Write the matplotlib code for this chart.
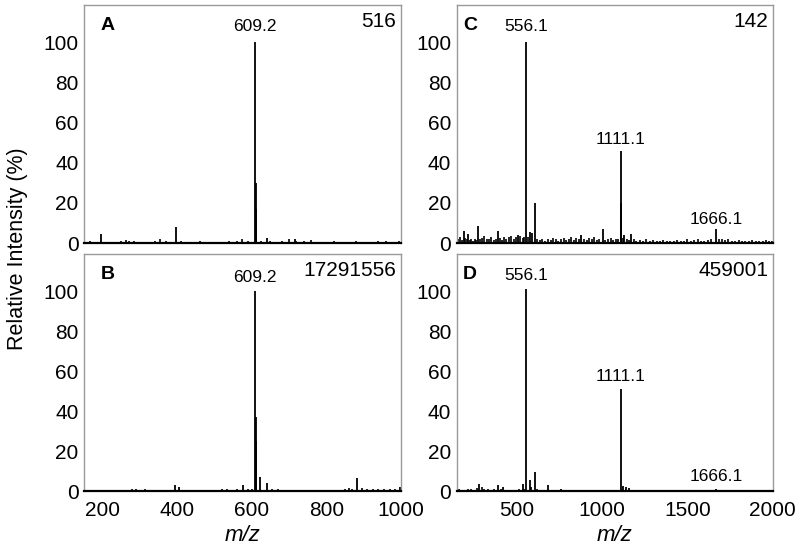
import matplotlib
matplotlib.use('Agg')
import matplotlib.pyplot as plt

plt.rcParams['font.family'] = ['Liberation Sans', 'DejaVu Sans']

# --- panel A: peaks and baseline (m/z, relative intensity %)
a_mz = [195, 397, 609.2, 610.2, 611.2, 612.2, 640, 716]
a_int = [4.5, 8, 100, 30, 17, 4, 2.5, 2]
a_noise_mz = [165, 180, 210, 230, 250, 262, 270, 285, 300, 320, 340, 355, 370, 410, 425, 440,
              460, 480, 500, 520, 540, 560, 575, 590, 625, 650, 665, 680, 700, 720, 740, 760,
              780, 800, 820, 840, 860, 880, 900, 920, 940, 960, 980, 995]
a_noise = [0.8, 0.6, 0.5, 0.7, 1.2, 1.5, 1.0, 0.8, 0.6, 0.7, 1.0, 1.8, 0.8, 0.9, 0.7, 0.6,
           0.8, 0.5, 0.6, 0.7, 0.9, 0.8, 1.8, 0.9, 1.2, 0.8, 0.7, 0.9, 1.8, 1.0, 0.8, 1.4,
           0.7, 0.6, 0.9, 0.6, 0.5, 0.8, 0.7, 0.6, 1.0, 0.8, 0.7, 0.9]

# --- panel B
b_mz = [393, 406, 576, 609.2, 610.2, 611.2, 622, 640, 882, 998]
b_int = [3, 2, 3, 100, 37, 25, 7, 4, 6.5, 2]
b_noise_mz = [165, 190, 215, 240, 265, 280, 290, 305, 313, 330, 350, 370, 420, 440, 460, 480,
              500, 520, 535, 550, 560, 590, 600, 655, 670, 690, 710, 730, 750, 770, 790, 810,
              830, 850, 862, 870, 895, 910, 925, 940, 955, 970, 985]
b_noise = [0.3, 0.3, 0.4, 0.5, 0.6, 1.0, 0.8, 0.6, 1.0, 0.5, 0.6, 0.5, 0.4, 0.3, 0.3, 0.3,
           0.5, 0.8, 0.9, 0.7, 1.0, 1.2, 0.8, 1.2, 0.9, 0.6, 0.5, 0.4, 0.4, 0.4, 0.4, 0.5,
           0.6, 0.8, 1.5, 1.2, 1.4, 1.0, 1.2, 0.8, 1.0, 0.8, 1.0]

# --- panel C
c_mz = [191, 216, 275, 390, 507, 556.1, 577, 593, 605, 880, 1005, 1111.1, 1112.1, 1113.1,
        1131, 1169, 1666.1]
c_int = [5.8, 4.7, 8.5, 5.8, 4, 100, 5.4, 5, 20, 4, 7, 46, 20, 13, 4, 4.5, 6.8]
c_noise_mz = [158, 168, 178, 200, 208, 225, 235, 245, 255, 265, 285, 300, 312, 325, 340, 352,
              365, 378, 400, 412, 425, 440, 455, 470, 485, 495, 520, 535, 545, 565, 620, 635,
              650, 668, 685, 700, 715, 730, 745, 760, 775, 790, 805, 820, 835, 850, 865, 895,
              910, 925, 940, 955, 970, 985, 1020, 1035, 1050, 1065, 1080, 1095, 1125, 1145,
              1160, 1185, 1200, 1220, 1240, 1260, 1280, 1300, 1320, 1340, 1360, 1380, 1400,
              1420, 1440, 1460, 1480, 1500, 1520, 1540, 1560, 1580, 1600, 1620, 1640, 1685,
              1700, 1720, 1740, 1760, 1780, 1800, 1820, 1840, 1860, 1880, 1900, 1920, 1940,
              1960, 1980, 1995]
c_noise = [2.0, 3.0, 1.5, 2.5, 1.8, 1.5, 2.2, 1.2, 2.0, 1.6, 1.8, 2.5, 3.5, 2.0, 1.8, 2.8,
           1.5, 2.0, 2.5, 1.5, 3.0, 2.0, 2.8, 3.5, 2.2, 3.0, 3.5, 2.5, 3.0, 2.8, 2.0, 1.5,
           1.8, 1.2, 2.0, 1.5, 2.5, 1.8, 1.2, 1.8, 2.5, 1.5, 2.0, 2.8, 1.5, 2.5, 1.8, 2.2,
           1.5, 2.5, 1.8, 3.0, 1.5, 2.2, 1.5, 1.8, 2.5, 1.5, 2.0, 1.8, 2.5, 2.0,
           1.5, 1.8, 1.2, 1.5, 1.0, 1.8, 1.2, 1.5, 1.0, 1.2, 1.5, 0.8, 1.2,
           1.0, 1.5, 0.8, 1.2, 1.8, 1.0, 1.5, 2.2, 1.2, 1.0, 1.5, 2.0, 1.8,
           2.0, 1.5, 1.8, 1.2, 1.0, 1.5, 0.8, 1.2, 1.0, 1.5, 0.8, 1.2, 1.0,
           1.5, 0.8, 1.2]

# --- panel D
d_mz = [281, 394, 423, 535, 556.1, 576, 587, 605, 681, 759, 1111.1, 1125, 1140, 1160, 1666.1]
d_int = [3.5, 2.9, 2, 3.4, 101, 5.6, 2, 9.7, 2.9, 1, 51, 2.5, 2, 1.5, 1.2]
d_noise_mz = [160, 175, 195, 215, 235, 255, 270, 295, 310, 330, 350, 370, 410, 440, 460, 480,
              500, 515, 545, 620, 640, 660, 700, 720, 740, 780, 820, 860, 900, 950, 1000,
              1050, 1100, 1175, 1250, 1300, 1400, 1500, 1600, 1700, 1800, 1900, 1990]
d_noise = [1.0, 0.6, 0.5, 0.8, 1.0, 0.6, 1.5, 1.8, 0.8, 1.0, 0.5, 1.2, 0.8, 0.6, 0.5, 0.4,
           0.5, 0.8, 1.0, 0.8, 0.6, 0.5, 0.4, 0.3, 0.3, 0.4, 0.3, 0.3, 0.3, 0.3, 0.3,
           0.3, 0.4, 0.5, 0.3, 0.4, 0.3, 0.3, 0.3, 0.3, 0.3, 0.2, 0.3]

panels = [
    ('A', '516', a_mz, a_int, a_noise_mz, a_noise, [(609.2, 108, '609.2')], (150, 1000)),
    ('B', '17291556', b_mz, b_int, b_noise_mz, b_noise, [(609.2, 107, '609.2')], (150, 1000)),
    ('C', '142', c_mz, c_int, c_noise_mz, c_noise,
     [(556.1, 108, '556.1'), (1111.1, 51.4, '1111.1'), (1666.1, 11.7, '1666.1')], (150, 2000)),
    ('D', '459001', d_mz, d_int, d_noise_mz, d_noise,
     [(556.1, 108, '556.1'), (1111.1, 57.4, '1111.1'), (1666.1, 7.4, '1666.1')], (150, 2000)),
]

# axes rectangles in figure fraction
rects = {'A': [0.105, 0.5645, 0.396, 0.4265],
         'B': [0.105, 0.120, 0.396, 0.4247],
         'C': [0.571, 0.5645, 0.395, 0.4265],
         'D': [0.571, 0.120, 0.395, 0.4247]}

fig = plt.figure(figsize=(8, 5.58), dpi=100)

for letter, count, mz, inten, nmz, nint, labels, xl in panels:
    ax = fig.add_axes(rects[letter])
    ax.vlines(nmz, 0, nint, color='black', lw=1.2)
    ax.vlines(mz, 0, inten, color='black', lw=1.3)
    ax.set_xlim(*xl)
    ax.set_ylim(0, 118.5)
    ax.set_yticks([0, 20, 40, 60, 80, 100])
    ax.tick_params(length=0, labelsize=15, pad=4)
    ax.tick_params(axis='x', pad=7)
    for s in ['top', 'left', 'right']:
        ax.spines[s].set_color('#999999')
        ax.spines[s].set_linewidth(1.0)
    ax.spines['bottom'].set_color('black')
    ax.spines['bottom'].set_linewidth(1.6)
    if xl[1] == 1000:
        ax.set_xticks([200, 400, 600, 800, 1000])
    else:
        ax.set_xticks([500, 1000, 1500, 2000])
    if letter in ('A', 'C'):
        ax.set_xticklabels([])
    else:
        ax.set_xlabel('m/z', style='italic', fontsize=16, labelpad=4)
    lx = 0.076 if xl[1] == 1000 else 0.041
    ax.text(lx, 0.912, letter, transform=ax.transAxes, fontsize=14, fontweight='bold',
            ha='center', va='center')
    ax.text(0.985, 0.93, count, transform=ax.transAxes, fontsize=15, ha='right', va='center')
    for x, y, t in labels:
        ax.text(x, y, t, fontsize=12.5, ha='center', va='center')

fig.text(0.022, 0.555, 'Relative Intensity (%)', rotation=90, fontsize=15.5,
         ha='center', va='center')

fig.savefig('out.png', dpi=100)
